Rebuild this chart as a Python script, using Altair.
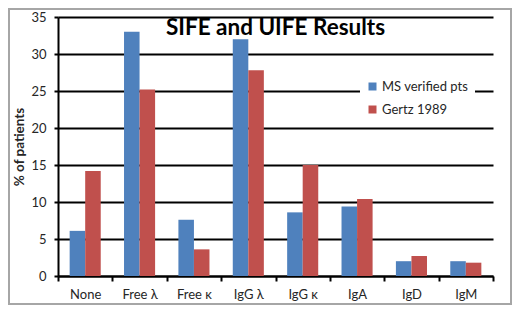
import altair as alt
import pandas as pd

categories = ["None", "Free λ", "Free κ", "IgG λ", "IgG κ", "IgA", "IgD", "IgM"]
series_names = ["MS verified pts", "Gertz 1989"]
ms_values = [6.1, 33.0, 7.6, 32.0, 8.6, 9.4, 2.0, 2.0]
gertz_values = [14.2, 25.2, 3.6, 27.8, 15.0, 10.4, 2.7, 1.8]
y_ticks = [0, 5, 10, 15, 20, 25, 30, 35]
colors = ["#4F81BD", "#C0504D"]

rows = []
for c, a, b in zip(categories, ms_values, gertz_values):
    rows.append({"cat": c, "series": series_names[0], "value": a})
    rows.append({"cat": c, "series": series_names[1], "value": b})
df = pd.DataFrame(rows)

FONT = "Lato"
TXT = "#262626"

bars = alt.Chart(df).mark_bar().encode(
    x=alt.X("cat:N", sort=categories, title=None,
            scale=alt.Scale(paddingInner=0, paddingOuter=0),
            axis=alt.Axis(labelAngle=0, tickBand="extent", tickSize=5, tickWidth=2,
                          tickColor="black", domainColor="black", domainWidth=2,
                          labelFontSize=13, labelColor=TXT, labelFont=FONT,
                          labelPadding=7, grid=False)),
    xOffset=alt.XOffset("series:N", sort=series_names,
                        scale=alt.Scale(paddingInner=0, paddingOuter=0.75)),
    y=alt.Y("value:Q", title="% of patients",
            scale=alt.Scale(domain=[0, 35], nice=False),
            axis=alt.Axis(values=y_ticks, tickSize=4, tickWidth=2, tickColor="black",
                          domainColor="black", domainWidth=2,
                          gridColor="black", gridWidth=2,
                          labelFontSize=13, labelColor=TXT, labelFont=FONT,
                          labelPadding=8, titleFont=FONT, titleFontSize=13.5,
                          titleFontWeight="bold", titleColor=TXT, titlePadding=4)),
    color=alt.Color("series:N", sort=series_names,
                    scale=alt.Scale(domain=series_names, range=colors),
                    legend=alt.Legend(title=None, orient="none", legendX=302, legendY=57,
                                      fillColor="white", padding=6, symbolType="square",
                                      symbolSize=64, symbolStrokeWidth=0,
                                      labelFontSize=13, labelFont=FONT, labelColor=TXT,
                                      labelOffset=3, rowPadding=9)),
)

border = alt.Chart(pd.DataFrame({"a": [0]})).mark_rect(
    filled=False, stroke="#a6a6a6", strokeWidth=2
).encode(
    x=alt.value(-49), x2=alt.value(453), y=alt.value(-8), y2=alt.value(287)
)

chart = alt.layer(bars, border).properties(
    width=435, height=259,
    title=alt.TitleParams("SIFE and UIFE Results", font=FONT, fontSize=22.5,
                          fontWeight="bold", color="black", anchor="middle",
                          frame="group", offset=0, dy=31),
    autosize=alt.AutoSizeParams(type="none"),
    padding={"left": 50, "top": 9, "right": 19, "bottom": 29},
).configure_view(stroke=None).configure_axis(labelFlush=False)

chart.save("out.html", embed_options={"renderer": "svg", "actions": False})
